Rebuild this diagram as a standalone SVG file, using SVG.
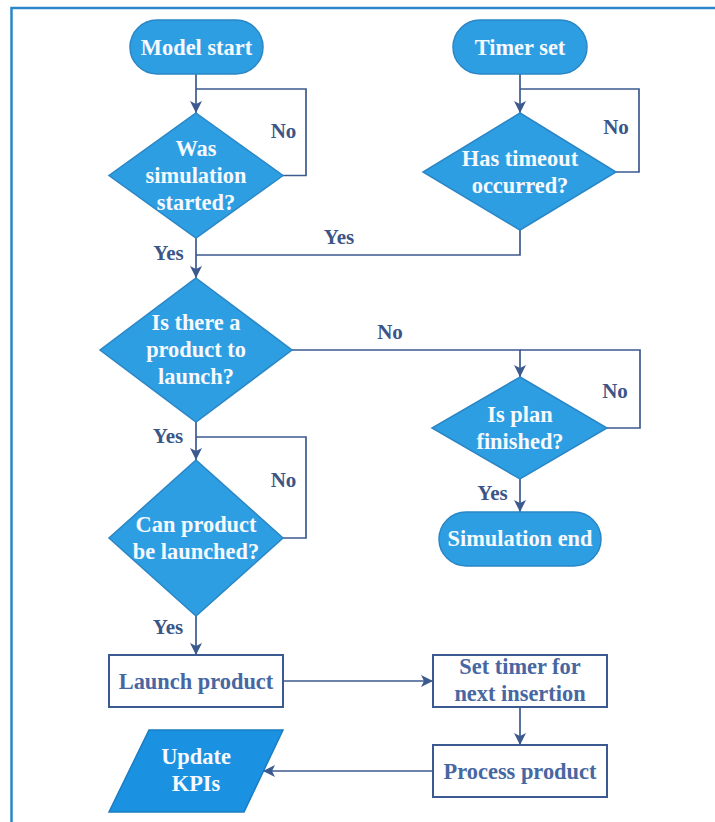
<svg xmlns="http://www.w3.org/2000/svg" width="715" height="822" viewBox="0 0 715 822">
  <style>
    text { font-family: "Liberation Serif", "Times New Roman", serif; font-weight: bold; text-anchor: middle; }
    .frame { fill: none; stroke: #2a88c9; stroke-width: 2.5; }
    .term, .dec { fill: #2e9ee3; stroke: #2a86c5; stroke-width: 1.5; }
    .io { fill: #1a91e1; stroke: #1b7dc2; stroke-width: 1.5; }
    .proc { fill: #ffffff; stroke: #3b5a91; stroke-width: 2; }
    .ntext { fill: #f6f9fd; font-size: 22.4px; }
    .ptext { fill: #4767a2; font-size: 22.4px; }
    .lbl { fill: #3b5587; font-size: 21px; }
    .conn { fill: none; stroke: #3c5a8e; stroke-width: 1.7; }
  </style>
  <defs>
    <marker id="arrow" viewBox="0 0 12 12" refX="12" refY="6" markerWidth="12" markerHeight="12" markerUnits="userSpaceOnUse" orient="auto">
      <path d="M0,0 L12,6 L0,12 L3,6 Z" fill="#3c5a8e"/>
    </marker>
  </defs>

  <rect width="715" height="822" fill="#ffffff"/>
  <path class="frame" d="M11.5,822 V8 H715"/>

  <!-- connectors -->
  <g id="connectors">
    <path class="conn" d="M196,74 V113" marker-end="url(#arrow)"/>
    <path class="conn" d="M283,175.5 H306 V89 H196"/>
    <path class="conn" d="M520,74 V113" marker-end="url(#arrow)"/>
    <path class="conn" d="M616,172 H639 V89 H520"/>
    <path class="conn" d="M520,230 V255 H196"/>
    <path class="conn" d="M196,238 V278" marker-end="url(#arrow)"/>
    <path class="conn" d="M292,350 H520 V377" marker-end="url(#arrow)"/>
    <path class="conn" d="M607,428 H640 V350 H520"/>
    <path class="conn" d="M520,479 V512" marker-end="url(#arrow)"/>
    <path class="conn" d="M196,422 V460" marker-end="url(#arrow)"/>
    <path class="conn" d="M283,538 H306 V437 H196"/>
    <path class="conn" d="M196,616 V655" marker-end="url(#arrow)"/>
    <path class="conn" d="M283,681 H433" marker-end="url(#arrow)"/>
    <path class="conn" d="M520,707 V745" marker-end="url(#arrow)"/>
    <path class="conn" d="M433,771 H263" marker-end="url(#arrow)"/>

    <text class="lbl" x="283.5" y="138">No</text>
    <text class="lbl" x="616" y="134">No</text>
    <text class="lbl" x="339" y="244">Yes</text>
    <text class="lbl" x="168.5" y="260">Yes</text>
    <text class="lbl" x="390" y="339">No</text>
    <text class="lbl" x="615" y="398">No</text>
    <text class="lbl" x="492.5" y="500">Yes</text>
    <text class="lbl" x="168" y="443">Yes</text>
    <text class="lbl" x="283.5" y="487">No</text>
    <text class="lbl" x="168" y="634">Yes</text>
  </g>

  <g id="model-start">
    <rect class="term" x="130" y="20" width="133" height="54" rx="27"/>
    <text class="ntext" x="196.5" y="54.5">Model start</text>
  </g>

  <g id="timer-set">
    <rect class="term" x="453" y="20" width="134" height="54" rx="27"/>
    <text class="ntext" x="520" y="54.5">Timer set</text>
  </g>

  <g id="sim-started">
    <polygon class="dec" points="196,113 283,175.5 196,238 109,175.5"/>
    <text class="ntext" x="196" y="156">Was</text>
    <text class="ntext" x="196" y="183">simulation</text>
    <text class="ntext" x="196" y="210">started?</text>
  </g>

  <g id="timeout">
    <polygon class="dec" points="520,113 616,172 520,230 423,172"/>
    <text class="ntext" x="520" y="165.5">Has timeout</text>
    <text class="ntext" x="520" y="192.5">occurred?</text>
  </g>

  <g id="product-to-launch">
    <polygon class="dec" points="196,278 292,350 196,422 100,350"/>
    <text class="ntext" x="196" y="330">Is there a</text>
    <text class="ntext" x="196" y="357">product to</text>
    <text class="ntext" x="196" y="384">launch?</text>
  </g>

  <g id="plan-finished">
    <polygon class="dec" points="520,377 607,428 520,479 432,428"/>
    <text class="ntext" x="520" y="421.5">Is plan</text>
    <text class="ntext" x="520" y="448.5">finished?</text>
  </g>

  <g id="simulation-end">
    <rect class="term" x="439" y="512" width="162" height="54" rx="27"/>
    <text class="ntext" x="520" y="546">Simulation end</text>
  </g>

  <g id="can-launch">
    <polygon class="dec" points="196,460 283,538 196,616 109,538"/>
    <text class="ntext" x="196" y="531.5">Can product</text>
    <text class="ntext" x="196" y="558.5">be launched?</text>
  </g>

  <g id="launch-product">
    <rect class="proc" x="109" y="655" width="174" height="52"/>
    <text class="ptext" x="196" y="688.5">Launch product</text>
  </g>

  <g id="set-timer">
    <rect class="proc" x="433" y="655" width="174" height="52"/>
    <text class="ptext" x="520" y="674">Set timer for</text>
    <text class="ptext" x="520" y="701">next insertion</text>
  </g>

  <g id="process-product">
    <rect class="proc" x="433" y="745" width="174" height="52"/>
    <text class="ptext" x="520" y="778.5">Process product</text>
  </g>

  <g id="update-kpis">
    <polygon class="io" points="149,730 283,730 244,812 109,812"/>
    <text class="ntext" x="196" y="764">Update</text>
    <text class="ntext" x="196" y="791">KPIs</text>
  </g>
</svg>
